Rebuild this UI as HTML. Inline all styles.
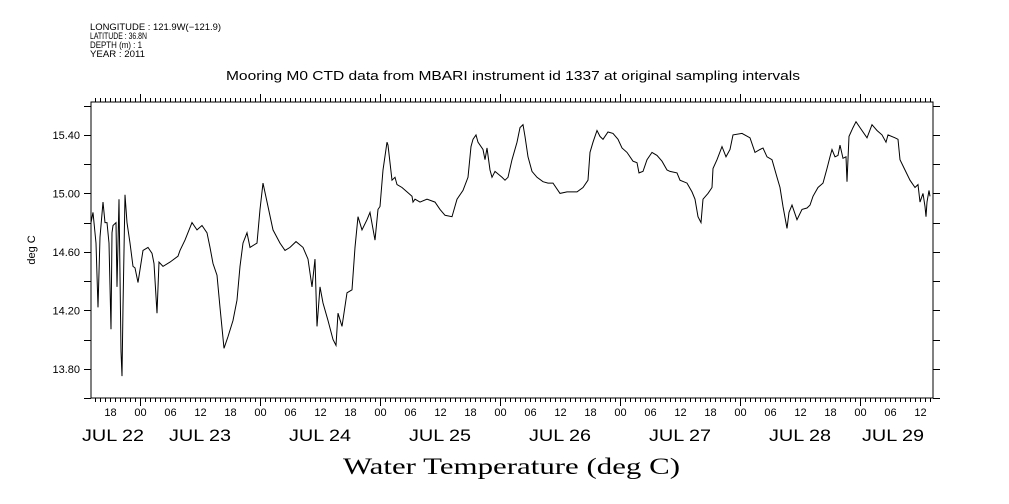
<!DOCTYPE html>
<html><head><meta charset="utf-8"><style>
html,body{margin:0;padding:0;background:#fff;}
svg{display:block;font-family:"Liberation Sans",sans-serif;}
</style></head><body>
<svg id="chart" width="1009" height="504" viewBox="0 0 1009 504" xmlns="http://www.w3.org/2000/svg">
<g font-size="9" fill="#000">
<text x="90" y="30" textLength="131" lengthAdjust="spacingAndGlyphs">LONGITUDE : 121.9W(−121.9)</text>
<text x="90" y="39" textLength="57" lengthAdjust="spacingAndGlyphs">LATITUDE : 36.8N</text>
<text x="90" y="48" textLength="52" lengthAdjust="spacingAndGlyphs">DEPTH (m) : 1</text>
<text x="90" y="57" textLength="55" lengthAdjust="spacingAndGlyphs">YEAR : 2011</text>
</g>
<text x="226" y="80" font-size="13" textLength="574" lengthAdjust="spacingAndGlyphs">Mooring M0 CTD data from MBARI instrument id 1337 at original sampling intervals</text>
<text x="0" y="0" font-size="11" text-anchor="middle" transform="translate(35,250) rotate(-90)">deg C</text>
<text x="343" y="474" font-size="23" textLength="337" lengthAdjust="spacingAndGlyphs" font-family="Liberation Serif, serif">Water Temperature (deg C)</text>
<g id="axes"></g>
<path id="line" fill="none" stroke="#000" stroke-width="1"/>
</svg>
<script>
const hours = [14.2,14.6,15.2,15.6,16.0,16.6,17.0,17.4,17.8,18.2,18.4,18.6,19.2,19.4,19.8,20.2,20.4,20.6,21.0,21.4,22.0,22.6,23.0,23.6,24.6,25.6,26.4,26.8,27.4,27.8,28.6,30.0,31.6,32.0,33.0,34.4,35.4,36.4,37.4,38.0,38.6,39.4,40.0,40.8,41.6,42.6,43.4,44.0,44.6,45.4,46.0,47.4,48.0,48.6,49.6,50.6,52.0,53.0,54.0,55.2,56.6,57.6,58.4,59.0,59.4,60.0,60.6,61.6,62.6,63.2,63.6,64.4,65.4,66.4,67.0,67.6,68.4,69.4,70.0,71.0,71.6,72.0,72.6,73.4,73.6,74.4,75.0,75.4,76.4,77.4,78.4,78.6,79.0,80.0,81.4,83.0,84.0,85.0,86.4,87.4,88.6,89.6,90.2,90.6,91.2,91.6,92.6,93.0,93.4,94.0,94.4,95.0,96.4,97.0,97.6,98.4,99.4,100.0,100.6,101.0,101.6,102.4,103.4,104.6,105.6,106.6,108.0,109.4,111.4,112.6,113.6,114.0,114.6,115.4,116.0,116.6,117.6,118.6,119.6,120.4,121.4,122.6,123.4,123.8,124.6,125.4,126.4,127.4,128.4,129.4,130.0,131.4,132.0,133.4,134.4,135.0,135.6,136.2,136.6,137.6,138.4,138.6,139.4,140.4,141.2,142.0,142.6,144.4,146.0,147.0,148.0,148.6,149.4,150.4,151.4,152.0,152.6,153.4,153.8,154.4,155.4,156.4,157.4,158.0,158.6,159.6,160.6,161.4,162.0,162.4,163.0,163.6,164.0,164.6,165.2,165.4,165.8,166.6,167.2,168.0,169.4,170.4,171.4,172.4,173.2,173.6,175.0,175.6,176.0,177.0,178.0,179.0,179.6,180.0,180.6,181.0,181.2,181.4,181.8,182.0];
const temps = [14.80,14.87,14.66,14.22,14.70,14.94,14.80,14.80,14.66,14.07,14.73,14.78,14.80,14.36,14.96,13.92,13.75,14.22,14.99,14.80,14.66,14.50,14.49,14.39,14.61,14.63,14.59,14.52,14.18,14.53,14.50,14.53,14.57,14.61,14.68,14.80,14.75,14.78,14.73,14.63,14.52,14.44,14.22,13.94,14.02,14.13,14.27,14.50,14.66,14.73,14.63,14.66,14.89,15.07,14.91,14.75,14.66,14.61,14.63,14.67,14.63,14.55,14.36,14.55,14.09,14.36,14.25,14.13,14.00,13.96,14.18,14.09,14.32,14.34,14.63,14.84,14.75,14.82,14.87,14.68,14.89,14.91,15.16,15.35,15.33,15.09,15.11,15.06,15.04,15.01,14.98,14.94,14.96,14.94,14.96,14.94,14.89,14.85,14.84,14.96,15.02,15.11,15.32,15.37,15.40,15.35,15.30,15.23,15.31,15.16,15.11,15.15,15.11,15.09,15.11,15.23,15.35,15.45,15.47,15.39,15.25,15.15,15.11,15.08,15.07,15.07,15.00,15.01,15.01,15.04,15.09,15.28,15.35,15.43,15.39,15.37,15.42,15.41,15.37,15.31,15.28,15.22,15.21,15.14,15.15,15.23,15.28,15.26,15.22,15.16,15.15,15.14,15.09,15.07,15.01,14.96,14.84,14.80,14.96,15.00,15.04,15.17,15.23,15.32,15.25,15.30,15.40,15.41,15.38,15.28,15.30,15.31,15.25,15.23,15.11,15.04,14.91,14.76,14.87,14.92,14.82,14.89,14.90,14.92,14.98,15.04,15.07,15.17,15.25,15.30,15.25,15.26,15.33,15.24,15.25,15.08,15.39,15.45,15.49,15.45,15.38,15.47,15.43,15.40,15.35,15.40,15.38,15.37,15.23,15.16,15.09,15.04,15.06,14.94,15.00,14.91,14.84,14.94,15.02,14.98];
const yTickValues = [13.80,14.20,14.60,15.00,15.40];
const yTickLabels = ["13.80","14.20","14.60","15.00","15.40"];
const dayLabels = ["JUL 22","JUL 23","JUL 24","JUL 25","JUL 26","JUL 27","JUL 28","JUL 29"];

const L=91,R=933,T=102,B=398;
const X0=14.2,X1=182.6,Y0=13.6,Y1=15.625;
function xs(h){return L+(h-X0)/(X1-X0)*(R-L);}
function ys(v){return B-(v-Y0)/(Y1-Y0)*(B-T);}
const NS="http://www.w3.org/2000/svg";
const ax=document.getElementById('axes');
function mk(tag,attrs,parent){const e=document.createElementNS(NS,tag);for(const k in attrs)e.setAttribute(k,attrs[k]);(parent||ax).appendChild(e);return e;}

const frame=mk('rect',{x:L,y:T,width:R-L,height:B-T,fill:'none',stroke:'#000','stroke-width':1});



let tickPath='';
for(let h=Math.ceil(X0);h<=X1;h++){
  const x=Math.round(xs(h))+0.5;
  const len=(h%24===0)?8:4;
  tickPath+=`M${x},${B}v${len}M${x},${T}v${-len}`;
  if(h%6===0){
    const lab=String(h%24).padStart(2,'0');
    const t=mk('text',{x:x,y:416,'font-size':11,'text-anchor':'middle'});
    t.textContent=lab;
    
    
  }
}
for(let v=13.6;v<=15.62;v+=0.2){
  const y=Math.round(ys(v))+0.5;
  tickPath+=`M${L},${y}h-7M${R},${y}h7`;
}
const tp=mk('path',{d:tickPath,stroke:'#000','stroke-width':1,fill:'none'});



yTickValues.forEach((v,i)=>{
  const t=mk('text',{x:80,y:ys(v)+4,'font-size':11,'text-anchor':'end'});
  t.textContent=yTickLabels[i];
  
  
});
dayLabels.forEach((d,i)=>{
  let c=xs(i*24+12);
  if(c<L+22) c=113;
  if(c>R-40) c=893;
  const t=mk('text',{x:c-31,y:441,'font-size':17,textLength:62,lengthAdjust:'spacingAndGlyphs'});
  t.textContent=d;
  
  
});

let d='';
hours.forEach((h,i)=>{d+=(i?'L':'M')+xs(h).toFixed(1)+','+ys(temps[i]).toFixed(1);});
document.getElementById('line').setAttribute('d',d);
</script>
</body></html>
